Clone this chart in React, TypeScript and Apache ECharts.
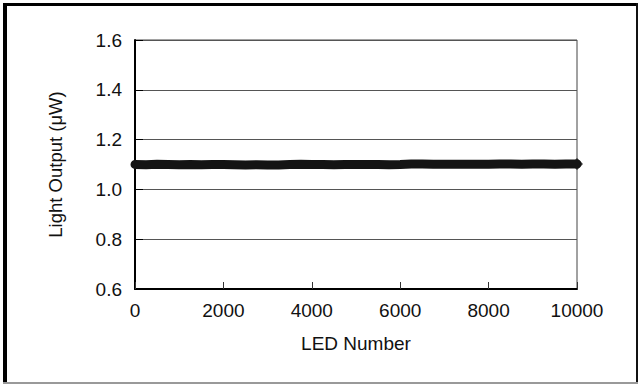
import React, { useEffect, useRef } from "react";
import * as echarts from "echarts";

const xTicks = [0, 2000, 4000, 6000, 8000, 10000];
const yTicks = [0.6, 0.8, 1.0, 1.2, 1.4, 1.6];
const ledNumbers = [
  0, 250, 500, 750, 1000, 1250, 1500, 1750, 2000, 2250, 2500, 2750, 3000, 3250,
  3500, 3750, 4000, 4250, 4500, 4750, 5000, 5250, 5500, 5750, 6000, 6250, 6500,
  6750, 7000, 7250, 7500, 7750, 8000, 8250, 8500, 8750, 9000, 9250, 9500, 9750,
  10000,
];
const lightOutput = [
  1.1, 1.099, 1.101, 1.1, 1.099, 1.1, 1.099, 1.1, 1.1, 1.099, 1.098, 1.099,
  1.098, 1.098, 1.1, 1.101, 1.1, 1.1, 1.099, 1.1, 1.1, 1.1, 1.1, 1.099, 1.1,
  1.102, 1.102, 1.101, 1.101, 1.101, 1.101, 1.101, 1.101, 1.102, 1.102, 1.101,
  1.102, 1.102, 1.101, 1.102, 1.102,
];

export default function App() {
  const ref = useRef<HTMLDivElement>(null);
  useEffect(() => {
    document.body.style.margin = "0";
    const chart = echarts.init(ref.current!, undefined, { renderer: "svg" });
    const pts = ledNumbers.map((x, i) => [x, lightOutput[i]]);
    const last = pts[pts.length - 1];
    const font = "Liberation Sans, Arial, sans-serif";
    chart.setOption({
      animation: false,
      backgroundColor: "#ffffff",
      graphic: [
        { type: "rect", shape: { x: 3, y: 3, width: 635, height: 3 }, style: { fill: "#000" } },
        { type: "rect", shape: { x: 3, y: 3, width: 4, height: 380 }, style: { fill: "#000" } },
        { type: "rect", shape: { x: 636, y: 3, width: 2, height: 380 }, style: { fill: "#111" } },
        { type: "rect", shape: { x: 3, y: 382, width: 635, height: 2 }, style: { fill: "#999" } },
      ],
      grid: {
        left: 135,
        right: 64,
        top: 40,
        bottom: 96,
        show: true,
        borderColor: "#444",
        borderWidth: 1,
      },
      xAxis: {
        type: "value",
        min: xTicks[0],
        max: xTicks[xTicks.length - 1],
        interval: 2000,
        name: "LED Number",
        nameLocation: "middle",
        nameGap: 45,
        nameTextStyle: { fontFamily: font, fontSize: 19, color: "#111" },
        axisLine: { show: true, lineStyle: { color: "#000", width: 2 } },
        axisTick: { show: true, inside: true, length: 7, lineStyle: { color: "#333", width: 1 } },
        axisLabel: {
          fontFamily: font,
          fontSize: 19,
          color: "#111",
          margin: 12,
          formatter: (v: number) => String(v),
        },
        splitLine: { show: false },
      },
      yAxis: {
        type: "value",
        min: yTicks[0],
        max: yTicks[yTicks.length - 1],
        interval: 0.2,
        name: "Light Output (μW)",
        nameLocation: "middle",
        nameGap: 70,
        nameTextStyle: { fontFamily: font, fontSize: 18.5, color: "#111" },
        axisLine: { show: true, lineStyle: { color: "#000", width: 2 } },
        axisTick: { show: true, inside: true, length: 8, lineStyle: { color: "#000", width: 1 } },
        axisLabel: {
          fontFamily: font,
          fontSize: 19,
          color: "#111",
          margin: 13,
          formatter: (v: number) => v.toFixed(1),
        },
        splitLine: { show: true, lineStyle: { color: "#555", width: 1 } },
      },
      series: [
        {
          type: "line",
          data: pts,
          symbol: "none",
          lineStyle: { color: "#141414", width: 9, cap: "round" },
          z: 3,
        },
        {
          type: "scatter",
          data: [last],
          symbol: "diamond",
          symbolSize: 12,
          itemStyle: { color: "#141414" },
          z: 4,
        },
      ],
    });
    return () => chart.dispose();
  }, []);
  return <div ref={ref} style={{ width: 641, height: 385 }} />;
}
